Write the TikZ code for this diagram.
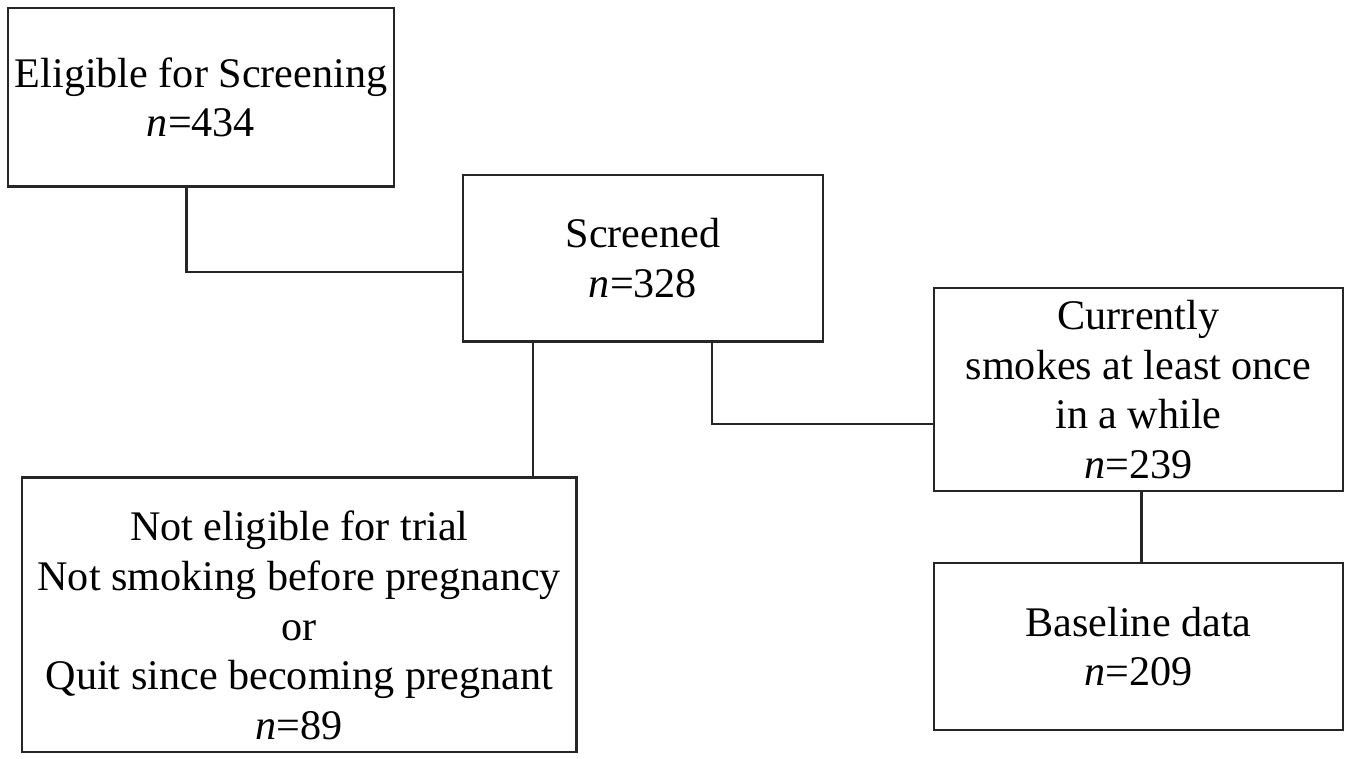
\documentclass[tikz,border=0pt]{standalone}
\usepackage{fontspec}
\setmainfont{Liberation Serif}
\usetikzlibrary{positioning,calc}

\begin{document}
\begin{tikzpicture}[line width=1.3pt, every node/.style={font=\fontsize{24}{28.3}\selectfont}]
	\tikzstyle{flowbox} = [rectangle, align=center, text centered, draw=black!85, inner sep=0pt]
	\useasboundingbox (0,0) rectangle (27.06,-15.16);
	% screening
	\node (eligible) [flowbox, minimum width=7.72cm, minimum height=3.57cm] at (4.02,-1.945)
		{Eligible for Screening\\\textit{n}=434};
	\node (screened) [flowbox, minimum width=7.2cm, minimum height=3.33cm]
		at ($(eligible.center)+(8.84cm,-3.22cm)$) {Screened\\\textit{n}=328};
	% not eligible
	\node (noteligible) [flowbox, minimum width=11.09cm, minimum height=5.49cm]
		at ($(screened.center)+(-6.875cm,-7.13cm)$)
		{\rule{0pt}{1.02cm}Not eligible for trial\\Not smoking before pregnancy\\or\\Quit since becoming pregnant\\\textit{n}=89};
	% smokers
	\node (smokes) [flowbox, minimum width=8.18cm, minimum height=4.06cm]
		at ($(screened.center)+(9.91cm,-2.625cm)$)
		{Currently\\smokes at least once\\in a while\\\textit{n}=239};
	\node (baseline) [flowbox, minimum width=8.18cm, minimum height=3.34cm]
		at ($(smokes.center)+(0cm,-5.14cm)$) {Baseline data\\\textit{n}=209};
	% connectors
	\draw[draw=black!85] ($(eligible.south)+(-0.29cm,0cm)$) |- ($(screened.west)+(0cm,-0.28cm)$);
	\draw[draw=black!85] ($(screened.south)+(-2.2cm,0cm)$) coordinate (notelig_top)
		-- (notelig_top |- noteligible.north);
	\draw[draw=black!85] ($(screened.south)+(1.38cm,0cm)$) |- ($(smokes.west)+(0cm,-0.69cm)$);
	\draw[draw=black!85] ($(smokes.south)+(0.06cm,0cm)$) coordinate (smokes_bottom)
		-- (smokes_bottom |- baseline.north);
\end{tikzpicture}
\end{document}
